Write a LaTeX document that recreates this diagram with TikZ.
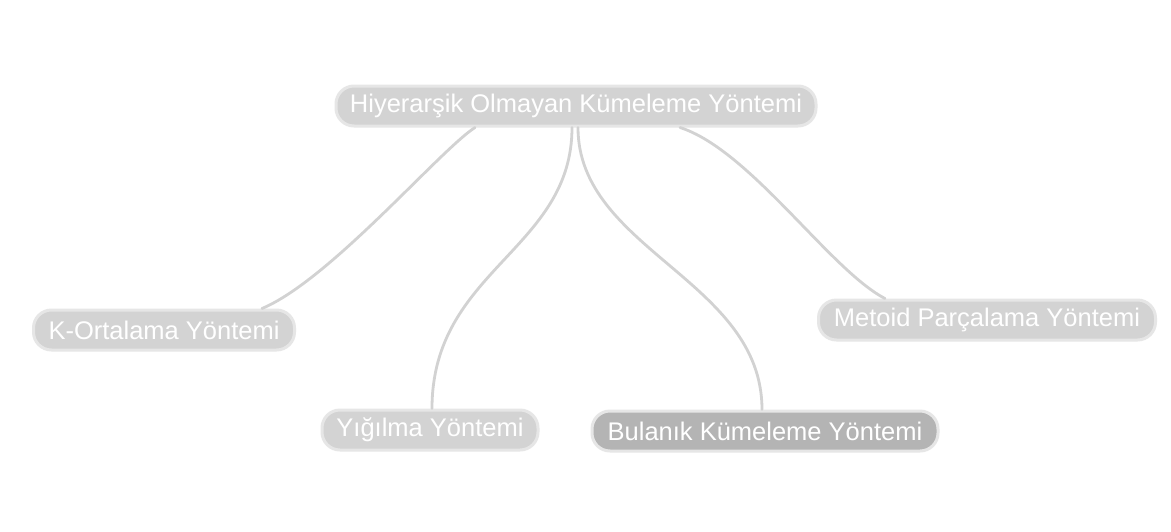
\documentclass[tikz,border=0pt]{standalone}
\usepackage{fontspec}
\setmainfont{Liberation Sans}
\definecolor{nodegray}{HTML}{D3D3D3}
\definecolor{nodedark}{HTML}{B4B4B4}
\definecolor{ringgray}{HTML}{E6E6E6}
\definecolor{linegray}{HTML}{D2D2D2}
\begin{document}
\begin{tikzpicture}[x=1pt,y=-1pt,
  mnode/.style={rounded corners=18pt, fill=nodegray, draw=ringgray, line width=3pt,
    text=white, font=\fontsize{25.5}{28}\selectfont, inner xsep=4pt, inner ysep=0pt,
    minimum height=40pt},
  link/.style={draw=linegray, line width=2.8pt, line cap=round}]
\useasboundingbox[fill=white] (0,0) rectangle (1171,531);
\node[mnode, minimum width=480pt] (top) at (576,106) {Hiyerarşik Olmayan Kümeleme Yöntemi};
\node[mnode, minimum width=261pt] (k) at (164,330) {K-Ortalama Yöntemi};
\node[mnode, minimum width=216pt] (y) at (430,430) {Yığılma Yöntemi};
\node[mnode, minimum width=346pt, fill=nodedark] (b) at (765,431) {Bulanık Kümeleme Yöntemi};
\node[mnode, minimum width=337pt] (m) at (987,320) {Metoid Parçalama Yöntemi};
\draw[link] ([xshift=-101pt]top.south) .. controls (440,150) and (330,280) .. ([xshift=98pt]k.north);
\draw[link] ([xshift=-4pt]top.south) .. controls (572,250) and (432,270) .. ([xshift=2pt]y.north);
\draw[link] ([xshift=2pt]top.south) .. controls (578,250) and (762,280) .. ([xshift=-3pt]b.north);
\draw[link] ([xshift=104pt]top.south) .. controls (750,150) and (830,270) .. ([xshift=-102pt]m.north);
\end{tikzpicture}
\end{document}
